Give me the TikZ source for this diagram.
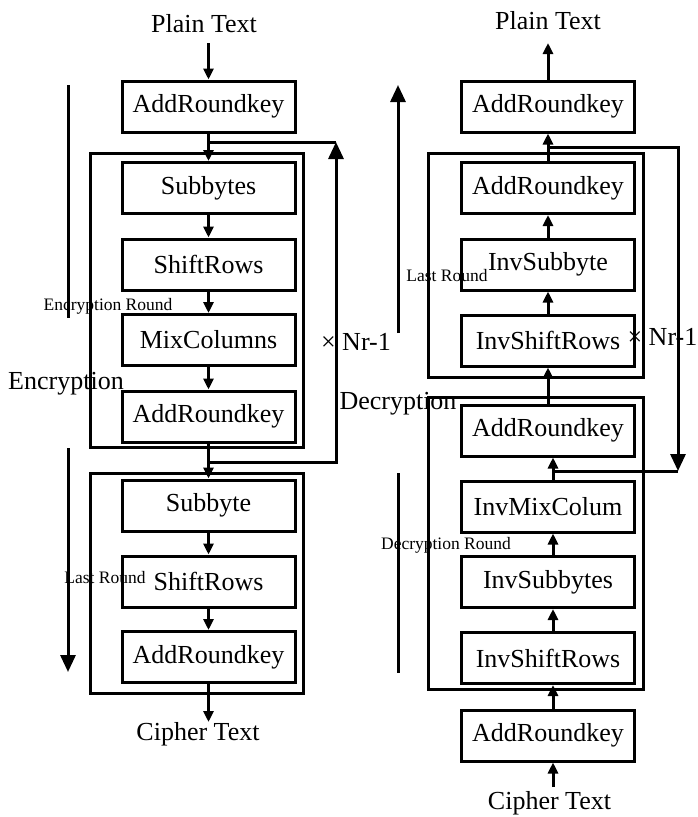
\documentclass[tikz,border=0pt]{standalone}
\usepackage{fontspec}
\setmainfont{Liberation Serif}
\usetikzlibrary{arrows.meta}
\begin{document}
\begin{tikzpicture}[x=1pt,y=-1pt,
  stage/.style={draw,line width=3pt,minimum width=173pt,minimum height=51pt,inner sep=0pt,font=\fontsize{26}{28}\selectfont},
  frame/.style={draw,line width=3pt},
  label/.style={font=\fontsize{26}{28}\selectfont,inner sep=0pt},
  tag/.style={font=\fontsize{17.5}{19}\selectfont,inner sep=0pt},
  flow/.style={line width=3pt,-{Triangle[width=10pt,length=11pt]}},
  bigflow/.style={line width=3pt,-{Triangle[width=15pt,length=17pt]}},
  link/.style={line width=3pt}]
\useasboundingbox (0,0) rectangle (698,817);

% ---------------- Encryption ----------------
\draw[frame] (90,153) rectangle (303,447);
\draw[frame] (90,473) rectangle (303,693);

\node[label] (lplain) at (204,24) {Plain Text};
\node[stage] (lark1)   at (208.5,106.5) {AddRoundkey};
\node[stage] (lsub)    at (208.5,188)   {Subbytes};
\node[stage] (lshift)  at (208.5,264.5) {ShiftRows};
\node[stage] (lmix)    at (208.5,340)   {MixColumns};
\node[stage] (lark2)   at (208.5,416.5) {AddRoundkey};
\node[stage] (lsub2)   at (208.5,505.5) {Subbyte};
\node[stage] (lshift2) at (208.5,581.5) {ShiftRows};
\node[stage] (lark3)   at (208.5,657)   {AddRoundkey};
\node[label] (lcipher) at (198,734) {Cipher Text};

\coordinate (lplainfoot) at (208.5,43);
\coordinate (lciphertip) at (208.5,722);
\draw[flow] (lplainfoot) -- (lark1.north);
\draw[flow] (lark1) -- (lsub);
\draw[flow] (lsub) -- (lshift);
\draw[flow] (lshift) -- (lmix);
\draw[flow] (lmix) -- (lark2);
\draw[flow] (lark2) -- (lsub2);
\draw[flow] (lsub2) -- (lshift2);
\draw[flow] (lshift2) -- (lark3);
\draw[flow] (lark3.south) -- (lciphertip);

% round repetition loop
\coordinate (lsplit) at (208.5,462);
\coordinate (lloopB) at (336,462);
\coordinate (lloopT) at (336,142);
\coordinate (ljoin)  at (208.5,142);
\draw[bigflow] (lsplit) -- (lloopB) -- (lloopT);
\draw[link] (lloopT) -- (ljoin);
\node[label,anchor=east] (lrep) at (391,342) {× Nr-1};

% direction marker
\coordinate (lsideA) at (68,85);
\coordinate (lsideB) at (68,318);
\coordinate (lsideC) at (68,448);
\coordinate (lsideD) at (68,672);
\draw[link] (lsideA) -- (lsideB);
\draw[bigflow] (lsideC) -- (lsideD);
\node[label] (lenc) at (66,384) {Encryption};
\node[tag] (lencround) at (108,306) {Encryption Round};
\node[tag] (llast) at (105,578) {Last Round};

% ---------------- Decryption ----------------
\draw[frame] (428,153) rectangle (643,377);
\draw[frame] (428,397) rectangle (643,689);

\node[label] (rplain) at (548,21) {Plain Text};
\node[stage] (rark0)      at (548,106.5) {AddRoundkey};
\node[stage] (rark1)      at (548,188)   {AddRoundkey};
\node[stage] (rinvsub)    at (548,264.5) {InvSubbyte};
\node[stage] (rinvshift)  at (548,340.5) {InvShiftRows};
\node[stage] (rark2)      at (548,430.5) {AddRoundkey};
\node[stage] (rinvmix)    at (548,506.5) {InvMixColum};
\node[stage] (rinvsubs)   at (548,582)   {InvSubbytes};
\node[stage] (rinvshift2) at (548,658)   {InvShiftRows};
\node[stage] (rark3)      at (548,735.5) {AddRoundkey};
\node[label] (rcipher) at (549.5,803) {Cipher Text};

\coordinate (rplaintip) at (548,43);
\coordinate (rcipherfoot) at (553,787);
\draw[flow] (rark0.north) -- (rplaintip);
\draw[flow] (rark1) -- (rark0);
\draw[flow] (rinvsub) -- (rark1);
\draw[flow] (rinvshift) -- (rinvsub);
\draw[flow] (rark2) -- (rinvshift);
\draw[flow] ([xshift=5pt]rinvmix.north) -- ([xshift=5pt]rark2.south);
\draw[flow] ([xshift=5pt]rinvsubs.north) -- ([xshift=5pt]rinvmix.south);
\draw[flow] ([xshift=5pt]rinvshift2.north) -- ([xshift=5pt]rinvsubs.south);
\draw[flow] ([xshift=5pt]rark3.north) -- ([xshift=5pt]rinvshift2.south);
\draw[flow] (rcipherfoot) -- ([xshift=5pt]rark3.south);

% round repetition loop
\coordinate (rsplit) at (548,147);
\coordinate (rloopT) at (678,147);
\coordinate (rloopB) at (678,471);
\coordinate (rjoin)  at (553,471);
\draw[bigflow] (rsplit) -- (rloopT) -- (rloopB);
\draw[link] (rloopB) -- (rjoin);
\node[label,anchor=east] (rrep) at (697.5,337) {× Nr-1};

% direction marker
\coordinate (rsideA) at (398,85);
\coordinate (rsideB) at (398,333);
\coordinate (rsideC) at (398,473);
\coordinate (rsideD) at (398,673);
\draw[bigflow] (rsideB) -- (rsideA);
\draw[link] (rsideC) -- (rsideD);
\node[label] (rdec) at (398,404) {Decryption};
\node[tag] (rlast) at (447,276) {Last Round};
\node[tag] (rdecround) at (446,545) {Decryption Round};
\end{tikzpicture}
\end{document}
